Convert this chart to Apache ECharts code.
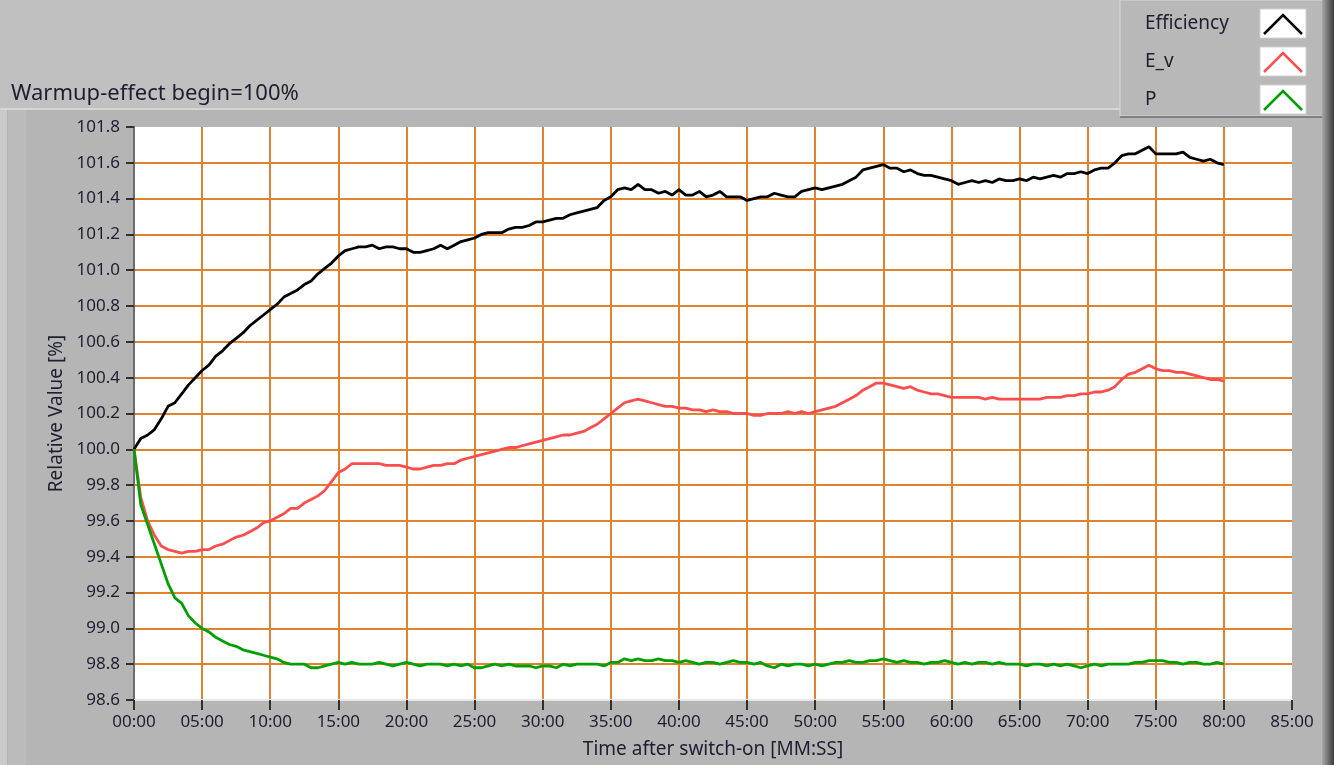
<!DOCTYPE html>
<html>
<head>
<meta charset="utf-8">
<script src="https://cdn.jsdelivr.net/npm/echarts@6/dist/echarts.min.js"></script>
<style>
  html, body { margin: 0; padding: 0; background: #b5b5b5; }
  #chart { width: 1334px; height: 765px; }
</style>
</head>
<body>
<div id="chart"></div>
<script>
'use strict'

var efficiency = [
  100.00,100.06,100.08,100.11,100.17,100.24,100.26,100.31,100.36,100.40,
  100.44,100.47,100.52,100.55,100.59,100.62,100.65,100.69,100.72,100.75,
  100.78,100.81,100.85,100.87,100.89,100.92,100.94,100.98,101.01,101.04,
  101.08,101.11,101.12,101.13,101.13,101.14,101.12,101.13,101.13,101.12,
  101.12,101.10,101.10,101.11,101.12,101.14,101.12,101.14,101.16,101.17,
  101.18,101.20,101.21,101.21,101.21,101.23,101.24,101.24,101.25,101.27,
  101.27,101.28,101.29,101.29,101.31,101.32,101.33,101.34,101.35,101.39,
  101.41,101.45,101.46,101.45,101.48,101.45,101.45,101.43,101.44,101.42,
  101.45,101.42,101.42,101.44,101.41,101.42,101.44,101.41,101.41,101.41,
  101.39,101.40,101.41,101.41,101.43,101.42,101.41,101.41,101.44,101.45,
  101.46,101.45,101.46,101.47,101.48,101.50,101.52,101.56,101.57,101.58,
  101.59,101.57,101.57,101.55,101.56,101.54,101.53,101.53,101.52,101.51,
  101.50,101.48,101.49,101.50,101.49,101.50,101.49,101.51,101.50,101.50,
  101.51,101.50,101.52,101.51,101.52,101.53,101.52,101.54,101.54,101.55,
  101.54,101.56,101.57,101.57,101.60,101.64,101.65,101.65,101.67,101.69,
  101.65,101.65,101.65,101.65,101.66,101.63,101.62,101.61,101.62,101.60,
  101.59
];

var eV = [
  100.00,99.73,99.60,99.52,99.46,99.44,99.43,99.42,99.43,99.43,
  99.44,99.44,99.46,99.47,99.49,99.51,99.52,99.54,99.56,99.59,
  99.60,99.62,99.64,99.67,99.67,99.70,99.72,99.74,99.77,99.82,
  99.87,99.89,99.92,99.92,99.92,99.92,99.92,99.91,99.91,99.91,
  99.90,99.89,99.89,99.90,99.91,99.91,99.92,99.92,99.94,99.95,
  99.96,99.97,99.98,99.99,100.00,100.01,100.01,100.02,100.03,100.04,
  100.05,100.06,100.07,100.08,100.08,100.09,100.10,100.12,100.14,100.17,
  100.20,100.23,100.26,100.27,100.28,100.27,100.26,100.25,100.24,100.24,
  100.23,100.23,100.22,100.22,100.21,100.22,100.21,100.21,100.20,100.20,
  100.20,100.19,100.19,100.20,100.20,100.20,100.21,100.20,100.21,100.20,
  100.21,100.22,100.23,100.24,100.26,100.28,100.30,100.33,100.35,100.37,
  100.37,100.36,100.35,100.34,100.35,100.33,100.32,100.31,100.31,100.30,
  100.29,100.29,100.29,100.29,100.29,100.28,100.29,100.28,100.28,100.28,
  100.28,100.28,100.28,100.28,100.29,100.29,100.29,100.30,100.30,100.31,
  100.31,100.32,100.32,100.33,100.35,100.39,100.42,100.43,100.45,100.47,
  100.45,100.44,100.44,100.43,100.43,100.42,100.41,100.40,100.39,100.39,
  100.38
];

var power = [
  100.00,99.69,99.58,99.47,99.36,99.25,99.17,99.14,99.07,99.03,
  99.00,98.98,98.95,98.93,98.91,98.90,98.88,98.87,98.86,98.85,
  98.84,98.83,98.81,98.80,98.80,98.80,98.78,98.78,98.79,98.80,
  98.81,98.80,98.81,98.80,98.80,98.80,98.81,98.80,98.79,98.80,
  98.81,98.80,98.79,98.80,98.80,98.80,98.79,98.80,98.79,98.80,
  98.78,98.78,98.79,98.80,98.79,98.80,98.79,98.79,98.79,98.78,
  98.79,98.79,98.78,98.80,98.79,98.80,98.80,98.80,98.80,98.79,
  98.81,98.81,98.83,98.82,98.83,98.82,98.82,98.83,98.82,98.82,
  98.81,98.82,98.81,98.80,98.81,98.81,98.80,98.81,98.82,98.81,
  98.81,98.80,98.81,98.79,98.78,98.80,98.79,98.80,98.80,98.79,
  98.80,98.79,98.80,98.81,98.81,98.82,98.81,98.81,98.82,98.82,
  98.83,98.82,98.81,98.82,98.81,98.81,98.80,98.81,98.81,98.82,
  98.81,98.80,98.81,98.80,98.81,98.81,98.80,98.81,98.80,98.80,
  98.80,98.79,98.80,98.80,98.79,98.80,98.79,98.80,98.79,98.78,
  98.79,98.80,98.79,98.80,98.80,98.80,98.80,98.81,98.81,98.82,
  98.82,98.82,98.81,98.81,98.80,98.81,98.81,98.80,98.80,98.81,
  98.80
];

// sample times in minutes (30 s step)
var minutes = efficiency.map(function (v, i) { return i * 0.5; });

var seriesNames = ['Efficiency', 'E_v', 'P'];
var seriesColors = ['#000000', '#ff4d4d', '#00a000'];
var seriesValues = [efficiency, eV, power];

var font = 'Noto Sans';
var textColor = '#1e1e30';

function pad2(n) { return (n < 10 ? '0' : '') + n; }

var chart = echarts.init(document.getElementById('chart'));

var series = seriesNames.map(function (name, k) {
  return {
    name: name,
    type: 'line',
    showSymbol: false,
    animation: false,
    lineStyle: { color: seriesColors[k], width: 2.8 },
    itemStyle: { color: seriesColors[k] },
    data: minutes.map(function (t, i) { return [t, seriesValues[k][i]]; })
  };
});

// legend boxes (LabVIEW style plot legend)
var legendGraphics = [];
seriesNames.forEach(function (name, k) {
  var top = 9 + k * 38;
  legendGraphics.push({
    type: 'text', left: 1145, top: top + 5,
    style: { text: name, font: '19px "' + font + '"', fill: textColor }
  });
  legendGraphics.push({
    type: 'rect', shape: { x: 1260, y: top, width: 46, height: 29 },
    style: { fill: '#ffffff', stroke: '#d0d0d0' }
  });
  legendGraphics.push({
    type: 'polyline',
    shape: { points: [[1264, top + 25], [1283, top + 6], [1302, top + 25]] },
    style: { stroke: seriesColors[k], lineWidth: 2.5, fill: null }
  });
});

var option = {
  backgroundColor: '#b5b5b5',
  animation: false,
  title: {
    text: 'Warmup-effect begin=100%',
    left: 6, top: 78,
    textStyle: { fontFamily: font, fontSize: 22, fontWeight: 'normal', color: textColor }
  },
  graphic: [
    { type: 'rect', z: -10, shape: { x: 0, y: 0, width: 1334, height: 108 }, style: { fill: '#c0c0c0' } },
    { type: 'rect', z: -10, shape: { x: 0, y: 108, width: 1334, height: 2 }, style: { fill: '#d6d6d6' } },
    { type: 'rect', z: -10, shape: { x: 0, y: 110, width: 7, height: 655 }, style: { fill: '#c9c9c9' } },
    { type: 'rect', z: -10, shape: { x: 8, y: 110, width: 18, height: 655 }, style: { fill: '#bbbbbb' } },
    { type: 'rect', z: -10, shape: { x: 1120, y: 0, width: 204, height: 116 }, style: { fill: '#b8b8b8', stroke: '#dadada', lineWidth: 1 } },
    { type: 'rect', z: -10, shape: { x: 1120, y: 116, width: 204, height: 2 }, style: { fill: '#808080' } },
    {
      type: 'rect', z: -9, shape: { x: 1322, y: 0, width: 12, height: 765 },
      style: {
        fill: new echarts.graphic.LinearGradient(0, 0, 1, 0, [
          { offset: 0, color: '#a8a8a8' }, { offset: 1, color: '#3c3c3c' }
        ])
      }
    }
  ].concat(legendGraphics),
  grid: {
    left: 134, top: 127, width: 1158, height: 573,
    show: true, backgroundColor: '#ffffff', borderWidth: 0
  },
  xAxis: {
    type: 'value',
    min: 0, max: 85, interval: 5,
    name: 'Time after switch-on [MM:SS]',
    nameLocation: 'middle', nameGap: 40,
    nameTextStyle: { fontFamily: font, fontSize: 19, color: textColor },
    axisLine: { show: true, onZero: false, lineStyle: { color: '#e8e8e8', width: 2 } },
    axisTick: { show: true, length: 10, lineStyle: { color: '#303030', width: 2 } },
    axisLabel: {
      fontFamily: font, fontSize: 17, color: textColor, margin: 14,
      formatter: function (v) { return pad2(v) + ':00'; }
    },
    splitLine: { show: true, showMinLine: false, showMaxLine: false, lineStyle: { color: '#e0822e', width: 2 } }
  },
  yAxis: {
    type: 'value',
    min: 98.6, max: 101.8, interval: 0.2,
    name: 'Relative Value [%]',
    nameLocation: 'middle', nameGap: 66,
    nameTextStyle: { fontFamily: font, fontSize: 19, color: textColor },
    axisLine: { show: true, lineStyle: { color: '#6e6e6e', width: 2 } },
    axisTick: { show: true, length: 8, lineStyle: { color: '#303030', width: 2 } },
    axisLabel: {
      fontFamily: font, fontSize: 17, color: textColor, margin: 14,
      formatter: function (v) { return v.toFixed(1); }
    },
    splitLine: { show: true, showMinLine: false, showMaxLine: false, lineStyle: { color: '#e0822e', width: 2 } }
  },
  series: series
};

chart.setOption(option);
</script>
</body>
</html>
